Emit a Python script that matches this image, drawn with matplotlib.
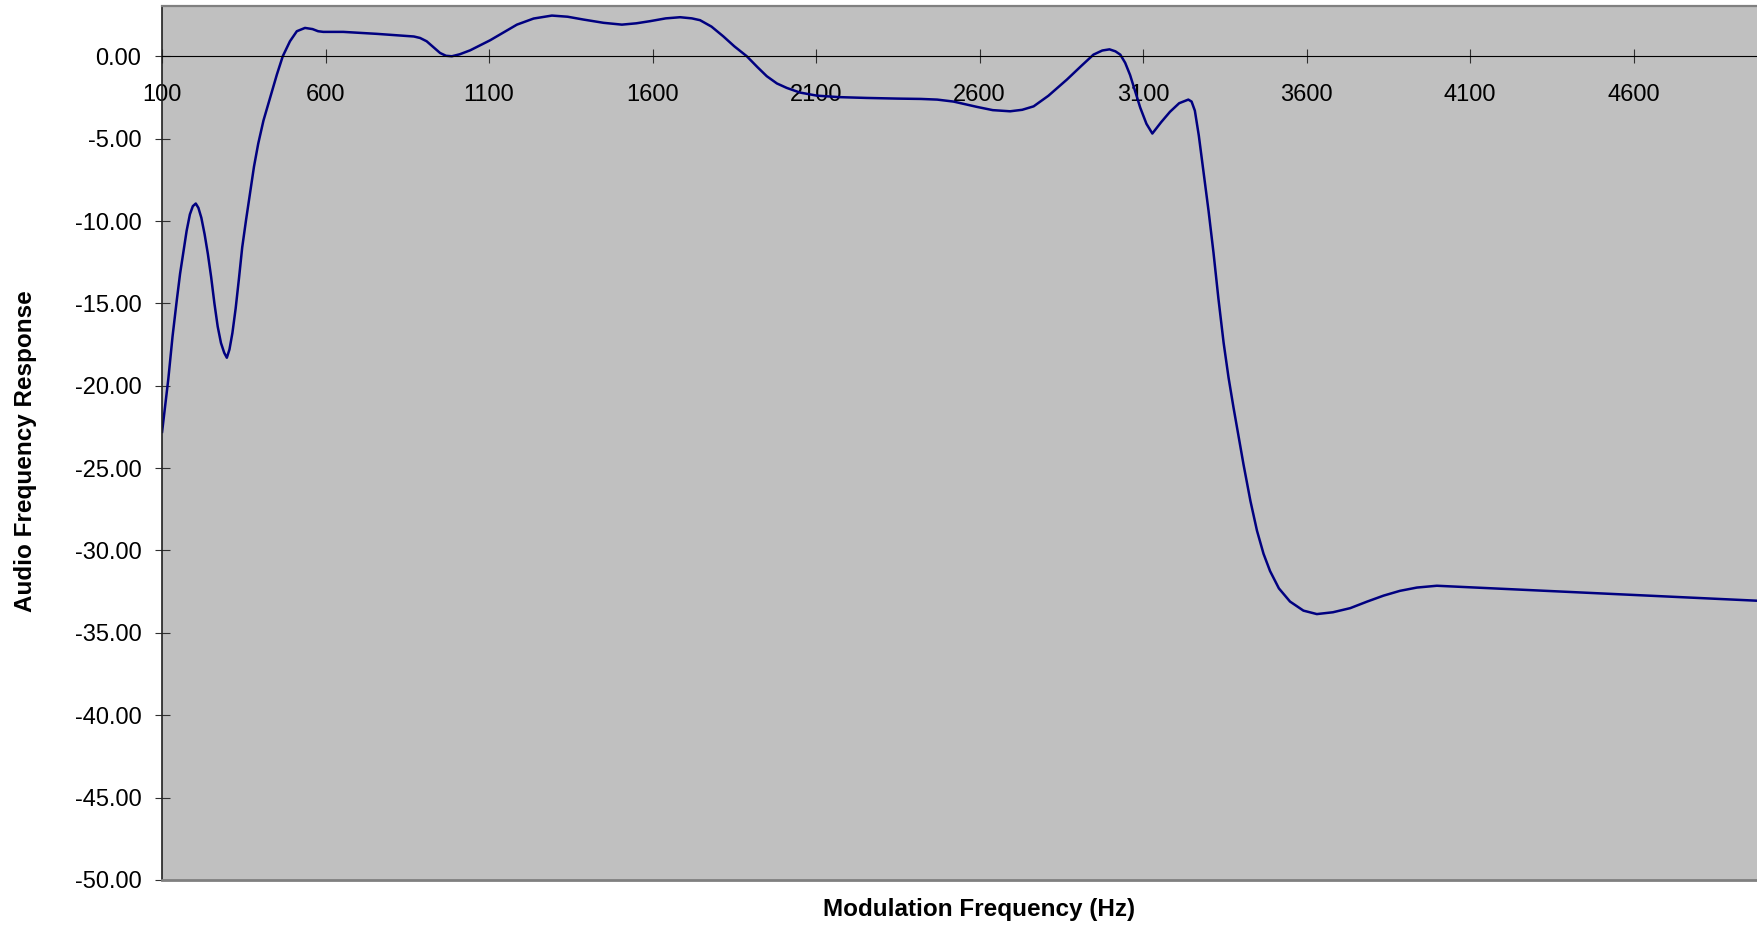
import matplotlib.pyplot as plt
from matplotlib.ticker import FormatStrFormatter

# ---------------------------------------------------------
# Data
# ---------------------------------------------------------
freq_hz = [100, 119, 132, 145, 155, 165, 175, 185, 194, 203, 211, 220, 230,
           240, 250, 260, 270, 280, 290, 298, 306, 315, 325, 335, 345, 357,
           369, 381, 394, 410, 430, 451, 469, 491, 512, 537, 560, 577, 593,
           654, 757, 828, 870, 889, 909, 930, 950, 968, 986, 1010, 1042, 1103,
           1140, 1185, 1236, 1292, 1340, 1388, 1450, 1506, 1550, 1592, 1640,
           1684, 1720, 1745, 1780, 1816, 1850, 1888, 1920, 1949, 1980, 2010,
           2050, 2102, 2170, 2255, 2350, 2420, 2470, 2520, 2591, 2640, 2693,
           2730, 2765, 2810, 2867, 2910, 2948, 2975, 2997, 3015, 3030, 3045,
           3060, 3075, 3091, 3110, 3128, 3155, 3182, 3210, 3238, 3248, 3258,
           3270, 3284, 3300, 3315, 3330, 3346, 3361, 3376, 3392, 3407, 3428,
           3448, 3468, 3488, 3515, 3549, 3590, 3631, 3680, 3733, 3785, 3835,
           3885, 3937, 3998, 5000]
response = [-22.8, -19.6, -17.0, -14.8, -13.2, -11.9, -10.6, -9.6, -9.1, -8.94,
            -9.2, -9.8, -10.8, -12.0, -13.4, -15.0, -16.4, -17.4, -18.0, -18.3,
            -17.8, -16.8, -15.3, -13.5, -11.6, -9.9, -8.3, -6.7, -5.3, -3.9,
            -2.55, -1.11, 0.0, 0.91, 1.52, 1.72, 1.65, 1.52, 1.48, 1.48, 1.36,
            1.26, 1.2, 1.11, 0.91, 0.55, 0.2, 0.03, 0.0, 0.12, 0.36, 0.97, 1.4,
            1.92, 2.29, 2.47, 2.4, 2.23, 2.03, 1.92, 2.0, 2.13, 2.3, 2.37, 2.3,
            2.19, 1.8, 1.21, 0.6, 0.0, -0.65, -1.21, -1.65, -1.92, -2.2, -2.39,
            -2.48, -2.53, -2.57, -2.59, -2.63, -2.75, -3.07, -3.27, -3.34,
            -3.25, -3.04, -2.4, -1.41, -0.6, 0.1, 0.35, 0.42, 0.3, 0.1, -0.4,
            -1.14, -2.1, -3.12, -4.1, -4.69, -4.0, -3.37, -2.85, -2.63, -2.75,
            -3.3, -4.8, -6.97, -9.4, -11.92, -14.7, -17.4, -19.5, -21.3, -23.1,
            -24.8, -27.0, -28.8, -30.2, -31.25, -32.3, -33.1, -33.65, -33.86,
            -33.75, -33.5, -33.1, -32.74, -32.45, -32.25, -32.14, -33.07]

x_ticks = [100, 600, 1100, 1600, 2100, 2600, 3100, 3600, 4100, 4600]
y_ticks = [0, -5, -10, -15, -20, -25, -30, -35, -40, -45, -50]

# ---------------------------------------------------------
# Figure
# ---------------------------------------------------------
plt.rcParams["font.family"] = ["Liberation Sans", "DejaVu Sans"]
plt.rcParams["axes.unicode_minus"] = False

fig = plt.figure(figsize=(17.58, 9.26), dpi=100)
ax = fig.add_axes([0.0922, 0.0497, 0.9078, 0.9438])
ax.set_facecolor("#C0C0C0")

ax.plot(freq_hz, response, color="#000080", linewidth=1.8,
        solid_joinstyle="round")

ax.set_xlim(100, 4980)
ax.set_ylim(-50, 3.05)

# x axis crosses at zero
ax.spines["bottom"].set_position(("data", 0))
ax.spines["bottom"].set_color("black")
ax.spines["bottom"].set_linewidth(0.8)
ax.spines["top"].set_color("#808080")
ax.spines["top"].set_linewidth(1.6)
ax.spines["right"].set_visible(False)
ax.spines["left"].set_color("#202020")
ax.spines["left"].set_linewidth(1.2)
ax.axhline(-50, color="#808080", linewidth=2.0, clip_on=False, zorder=3)

ax.set_xticks(x_ticks)
ax.set_yticks(y_ticks)
ax.yaxis.set_major_formatter(FormatStrFormatter("%.2f"))
ax.tick_params(axis="x", direction="inout", length=10.3, width=0.8,
               color="#303030", labelsize=17, pad=14.5)
ax.tick_params(axis="y", direction="inout", length=10.8, width=0.8,
               color="#303030", labelsize=17, pad=9.5)

ax.set_xlabel("Modulation Frequency (Hz)", fontsize=17.5, fontweight="bold")
ax.set_ylabel("Audio Frequency Response", fontsize=17.5, fontweight="bold")
ax.xaxis.set_label_coords(0.512, -0.0343)
ax.xaxis.label.set_va("center")
ax.yaxis.set_label_coords(-0.0853, 0.491)
ax.yaxis.label.set_va("center")

plt.savefig("out.png", dpi=100)
